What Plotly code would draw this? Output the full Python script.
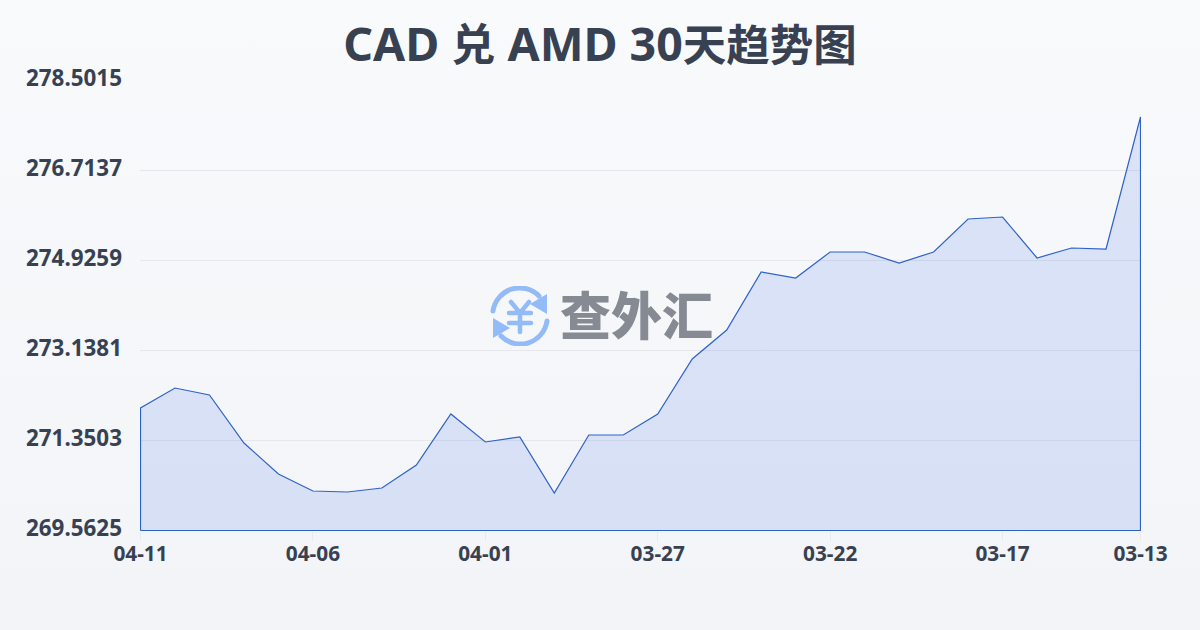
import base64
import plotly.graph_objects as go

# newest date first
dates = ['04-11', '04-10', '04-09', '04-08', '04-07', '04-06', '04-05', '04-04', '04-03', '04-02',
         '04-01', '03-31', '03-30', '03-29', '03-28', '03-27', '03-26', '03-25', '03-24', '03-23',
         '03-22', '03-21', '03-20', '03-19', '03-18', '03-17', '03-16', '03-15', '03-14', '03-13']
rates = [271.996, 272.393, 272.254, 271.301, 270.685, 270.347, 270.327, 270.407, 270.864, 271.877,
         271.321, 271.420, 270.307, 271.460, 271.460, 271.877, 272.969, 273.545, 274.697, 274.578,
         275.095, 275.095, 274.876, 275.095, 275.750, 275.790, 274.976, 275.174, 275.154, 277.776]
y_ticks = [269.5625, 271.3503, 273.1381, 274.9259, 276.7137, 278.5015]
x_tick_labels = ['04-11', '04-06', '04-01', '03-27', '03-22', '03-17', '03-13']

INK = '#374151'
BLUE = '#2f62c9'
ICON = '#93bbf8'

# plot box in page pixels, half a pixel past the data so the 1px outline stays crisp
BOX_L, BOX_T, BOX_W, BOX_H = 140, 80, 1001, 451


def svg_uri(svg):
    return 'data:image/svg+xml;base64,' + base64.b64encode(svg.encode()).decode()


def px(x):
    return (x - BOX_L) / BOX_W


def py(y):
    return (BOX_T + BOX_H - y) / BOX_H


background = svg_uri(
    '<svg xmlns="http://www.w3.org/2000/svg" width="1200" height="630">'
    '<defs><linearGradient id="g" x1="0" y1="0" x2="0" y2="1">'
    '<stop offset="0" stop-color="#f8fafc"/><stop offset="1" stop-color="#f2f4f7"/>'
    '</linearGradient></defs><rect width="1200" height="630" fill="url(#g)"/></svg>'
)

# watermark coin icon
logo = svg_uri(
    '<svg xmlns="http://www.w3.org/2000/svg" width="60" height="60" viewBox="0 0 60 60">'
    f'<g fill="none" stroke="{ICON}" stroke-linecap="round">'
    '<path d="M3 25 A27 27 0 0 1 49 10" stroke-width="5"/>'
    '<path d="M57 35 A27 27 0 0 1 11 50" stroke-width="5"/>'
    '<path d="M21 16 L30 27 L39 16 M19 27 H41 M19 37 H41 M30 27 V46" stroke-width="4.5"/>'
    f'</g><path d="M57 8 L57 28 L40 18 Z M3 32 L20 42 L3 52 Z" fill="{ICON}"/></svg>'
)

xs = list(range(len(dates)))
# outline runs down both ends and along the bottom of the plot
outline_x = [xs[0]] + xs + [xs[-1], xs[0]]
outline_y = [y_ticks[0]] + rates + [y_ticks[0], y_ticks[0]]

fig = go.Figure()
fig.add_trace(go.Scatter(
    x=outline_x,
    y=outline_y,
    mode='lines',
    fill='toself',
    fillcolor='rgba(60,110,230,0.15)',
    line=dict(color=BLUE, width=1.2),
    cliponaxis=False,
    hoverinfo='skip',
    showlegend=False
))

# y labels sit a little above their grid lines, so they are annotations
annotations = [dict(
    text=f'<b>{v:.4f}</b>',
    xref='paper',
    yref='y',
    x=px(124),
    y=v,
    xanchor='right',
    yanchor='middle',
    yshift=3,
    showarrow=False,
    font=dict(size=22.4, color=INK)
) for v in y_ticks]

annotations.append(dict(
    text='查外汇',
    xref='paper',
    yref='paper',
    x=px(636),
    y=py(313),
    showarrow=False,
    font=dict(size=51, color='#858a93', weight=900, family='"Noto Sans CJK SC", sans-serif')
))

title_text = ('<b><span style="font-size:46.5px">CAD </span>'
              '<span style="font-size:44px">兑</span>'
              '<span style="font-size:46.5px"> AMD 30</span>'
              '<span style="font-size:43.5px">天趋势图</span></b>')

fig.update_layout(
    width=1200,
    height=630,
    autosize=False,
    margin=dict(l=BOX_L, r=1200-BOX_L-BOX_W, t=BOX_T, b=630-BOX_T-BOX_H),
    paper_bgcolor='rgba(0,0,0,0)',
    plot_bgcolor='rgba(0,0,0,0)',
    font=dict(family='"Noto Sans", "Noto Sans CJK SC", sans-serif', color=INK),
    title=dict(
        text=title_text,
        font=dict(size=45, color=INK),
        x=0.5,
        xanchor='center',
        y=0.928,
        yanchor='middle'
    ),
    xaxis=dict(
        range=[-0.0145, 29.0145],
        tickmode='array',
        tickvals=[0, 5, 10, 15, 20, 25, 29],
        ticktext=x_tick_labels,
        tickfont=dict(size=20.8, color=INK, weight='bold'),
        showgrid=False,
        zeroline=False,
        showline=False,
        ticks='outside',
        ticklen=9,
        tickcolor='#e8eaee',
        ticklabelstandoff=-5
    ),
    yaxis=dict(
        range=[269.5526, 278.5114],
        tickmode='array',
        tickvals=y_ticks,
        showticklabels=False,
        showgrid=True,
        gridcolor='#e5e7eb',
        gridwidth=1,
        zeroline=False,
        showline=False,
        ticks=''
    ),
    images=[
        dict(source=background, xref='paper', yref='paper', x=px(0), y=py(0),
             sizex=1200/BOX_W, sizey=630/BOX_H, sizing='stretch', xanchor='left', yanchor='top', layer='below'),
        dict(source=logo, xref='paper', yref='paper', x=px(490), y=py(286),
             sizex=60/BOX_W, sizey=60/BOX_H, sizing='stretch', xanchor='left', yanchor='top', layer='above')
    ],
    annotations=annotations
)

fig.write_html('out.html', config=dict(displayModeBar=False), post_script="document.body.style.margin='0';")
